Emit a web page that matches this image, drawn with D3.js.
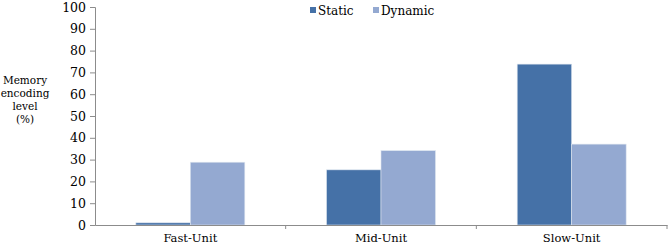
<!DOCTYPE html>
<meta charset="utf-8">
<html>
<script src="https://d3js.org/d3.v7.min.js"></script>
<style>
  body { margin: 0; background: white; }
</style>
<body>
<div id="chart"></div>
<script>
    // data
    const categories = ["Fast-Unit", "Mid-Unit", "Slow-Unit"];
    const seriesNames = ["Static", "Dynamic"];
    const staticValues = [1, 25.3, 73.8];
    const dynamicValues = [28.8, 34.1, 37.1];
    const yTicks = [0, 10, 20, 30, 40, 50, 60, 70, 80, 90, 100];
    const colors = ["#4571A7", "#94A9D1"];

    const W = 670, H = 248;
    const margin = {top: 7, right: 3, bottom: 23, left: 95};
    const width = W - margin.left - margin.right,
          height = H - margin.top - margin.bottom;
    const serif = '"DejaVu Serif", serif';

    const svg = d3.select("#chart").append("svg")
        .attr("width", W).attr("height", H)
        .attr("font-family", serif);
    const g = svg.append("g")
        .attr("transform", `translate(${margin.left},${margin.top})`);

    const x = d3.scaleBand().domain(categories).range([0, width]);
    const x1 = d3.scaleBand().domain(seriesNames)
        .range([0, x.bandwidth()]).paddingOuter(0.75).paddingInner(0);
    const y = d3.scaleLinear().domain([0, 100]).range([height, 0]);

    const rows = categories.map((c, i) => ({cat: c, vals: [staticValues[i], dynamicValues[i]]}));

    // bars
    g.selectAll("g.cat").data(rows).join("g")
        .attr("class", "cat")
        .attr("transform", d => `translate(${x(d.cat)},0)`)
      .selectAll("rect").data(d => d.vals.map((v, j) => ({name: seriesNames[j], v: v, j: j})))
      .join("rect")
        .attr("x", d => x1(d.name))
        .attr("y", d => y(d.v))
        .attr("width", x1.bandwidth())
        .attr("height", d => y(0) - y(d.v))
        .attr("fill", d => colors[d.j])
        .attr("stroke", "#dde4ee")
        .attr("stroke-width", 0.6);

    // y axis
    const yAxis = g.append("g")
        .call(d3.axisLeft(y).tickValues(yTicks).tickSize(5).tickPadding(4));
    yAxis.attr("font-family", serif).attr("font-size", 12.5);
    yAxis.select(".domain").attr("stroke", "#8c8c8c");
    yAxis.selectAll(".tick line").attr("stroke", "#8c8c8c");

    // x axis
    const xAxis = g.append("g")
        .attr("transform", `translate(0,${height})`)
        .call(d3.axisBottom(x).tickSize(0).tickPadding(9));
    xAxis.attr("font-family", serif).attr("font-size", 11.5);
    xAxis.select(".domain").attr("stroke", "#8c8c8c");
    // boundary ticks between categories
    g.append("g").selectAll("line")
        .data(categories.map(c => x(c) + x.bandwidth()))
        .join("line")
        .attr("x1", d => d).attr("x2", d => d)
        .attr("y1", height).attr("y2", height + 4)
        .attr("stroke", "#8c8c8c");

    // y axis title
    const titleLines = ["Memory", "encoding", "level", "(%)"];
    svg.append("text")
        .attr("text-anchor", "middle")
        .attr("font-size", 10.5)
        .selectAll("tspan").data(titleLines).join("tspan")
        .attr("x", 25)
        .attr("y", (d, i) => 84 + i * 13)
        .text(d => d);

    // legend
    const legendX = [310, 373];
    const legend = svg.append("g").selectAll("g").data(seriesNames).join("g")
        .attr("transform", (d, i) => `translate(${legendX[i]},0)`);
    legend.append("rect")
        .attr("x", 0).attr("y", 7).attr("width", 6).attr("height", 6)
        .attr("fill", (d, i) => colors[i]);
    legend.append("text")
        .attr("x", 8).attr("y", 15)
        .attr("font-size", 12)
        .text(d => d);
</script>
</body>
</html>
